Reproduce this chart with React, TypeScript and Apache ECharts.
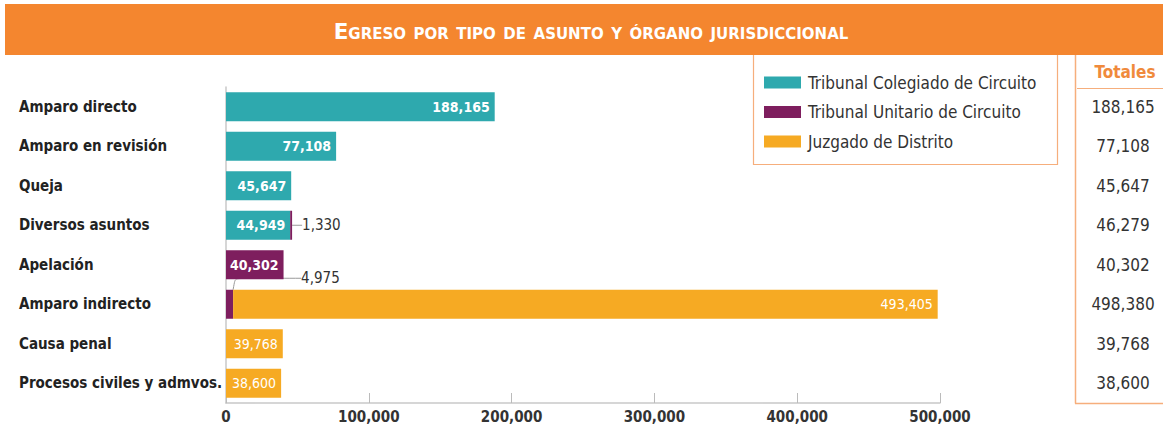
import React, { useEffect, useRef } from "react";
import * as echarts from "echarts";

const categories = [
  "Amparo directo",
  "Amparo en revisión",
  "Queja",
  "Diversos asuntos",
  "Apelación",
  "Amparo indirecto",
  "Causa penal",
  "Procesos civiles y admvos.",
];
const seriesNames = [
  "Tribunal Colegiado de Circuito",
  "Tribunal Unitario de Circuito",
  "Juzgado de Distrito",
];
const colegiado: (number | null)[] = [188165, 77108, 45647, 44949, null, null, null, null];
const unitario: (number | null)[] = [null, null, null, 1330, 40302, 4975, null, null];
const juzgado: (number | null)[] = [null, null, null, null, null, 493405, 39768, 38600];
const totales = [188165, 77108, 45647, 46279, 40302, 498380, 39768, 38600];
const xMax = 500000;
const xInterval = 100000;

const titleText = "Egreso por tipo de asunto y órgano jurisdiccional";
const totalsHeader = "Totales";

const COLORS = ["#2EA9AE", "#7E1E5E", "#F6AA23"];
const ORANGE = "#F4862F";
const LIGHT_ORANGE = "#F6AE7C";
const FONT = "'Liberation Sans Narrow', 'DejaVu Sans Condensed', 'Noto Sans', sans-serif";

const fmt = (v: any) => Number(v).toLocaleString("en-US");

export default function App() {
  const ref = useRef<HTMLDivElement>(null);
  useEffect(() => {
    document.body.style.margin = "0";
    if (!ref.current) return;
    const chart = echarts.init(ref.current, null, { renderer: "svg" });

    const toItems = (arr: (number | null)[]) =>
      arr.map((v, i) => {
        if (v == null) return "-";
        if (v < 10000) {
          return {
            value: v,
            label: {
              show: true,
              position: "right",
              distance: 5,
              color: "#333",
              fontWeight: "normal",
              fontSize: 15,
            },
            labelLine: {
              show: true,
              length2: i === 5 ? 66 : 0,
              smooth: i === 5 ? 0.2 : false,
              lineStyle: { color: "#999", width: 1 },
            },
          };
        }
        return { value: v };
      });

    const baseLabel = (weight: string) => ({
      show: true,
      position: "insideRight",
      distance: 5,
      color: "#fff",
      fontWeight: weight,
      fontSize: 14,
      fontFamily: FONT,
      formatter: (p: any) => fmt(p.value),
    });

    const option: any = {
      animation: false,
      textStyle: { fontFamily: FONT },
      grid: { left: 226, right: 223, top: 87, bottom: 27, containLabel: false },
      legend: {
        orient: "vertical",
        left: 764,
        top: 74,
        padding: 0,
        itemWidth: 37,
        itemHeight: 12,
        itemGap: 12.5,
        icon: "rect",
        selectedMode: false,
        data: seriesNames,
        textStyle: { fontSize: 17, color: "#333", fontFamily: FONT, padding: [0, 0, 0, 2] },
      },
      xAxis: {
        type: "value",
        min: 0,
        max: xMax,
        interval: xInterval,
        axisLine: { show: true, lineStyle: { color: "#c8c8c8", width: 1.5 } },
        axisTick: { show: true, inside: true, length: 10, lineStyle: { color: "#bbb" } },
        splitLine: { show: false },
        axisLabel: {
          fontWeight: "bold",
          fontSize: 15,
          color: "#333",
          margin: 6,
          fontFamily: FONT,
          formatter: (v: number) => fmt(v),
        },
      },
      yAxis: [
        {
          type: "category",
          data: categories,
          inverse: true,
          axisLine: { show: true, lineStyle: { color: "#c8c8c8", width: 1.5 } },
          axisTick: { show: false },
          axisLabel: {
            align: "left",
            margin: 207,
            fontWeight: "bold",
            fontSize: 15,
            color: "#222",
            fontFamily: FONT,
          },
        },
        {
          type: "category",
          data: categories,
          inverse: true,
          position: "right",
          axisLine: { show: false },
          axisTick: { show: false },
          axisLabel: {
            align: "center",
            margin: 183,
            fontSize: 17,
            color: "#333",
            fontFamily: FONT,
            formatter: (_v: string, i: number) => fmt(totales[i]),
          },
        },
      ],
      series: [
        {
          name: seriesNames[0],
          type: "bar",
          stack: "total",
          barWidth: 29,
          itemStyle: { color: COLORS[0] },
          label: baseLabel("bold"),
          data: toItems(colegiado),
        },
        {
          name: seriesNames[1],
          type: "bar",
          stack: "total",
          barWidth: 29,
          itemStyle: { color: COLORS[1] },
          label: baseLabel("bold"),
          labelLayout: (params: any) => {
            if (params.dataIndex === 3) return { dx: 5 };
            if (params.dataIndex === 5) return { dx: 63, dy: -26 };
            return {};
          },
          data: toItems(unitario),
        },
        {
          name: seriesNames[2],
          type: "bar",
          stack: "total",
          barWidth: 29,
          itemStyle: { color: COLORS[2] },
          label: baseLabel("normal"),
          data: toItems(juzgado),
        },
      ],
      graphic: [
        {
          type: "rect",
          z: 1,
          shape: { x: 753.5, y: 54.5, width: 304, height: 110 },
          style: { fill: "none", stroke: LIGHT_ORANGE, lineWidth: 1.2 },
        },
        {
          type: "line",
          shape: { x1: 1075.5, y1: 55, x2: 1075.5, y2: 403.5 },
          style: { stroke: LIGHT_ORANGE, lineWidth: 1.5 },
        },
        {
          type: "line",
          shape: { x1: 1075, y1: 403.5, x2: 1163, y2: 403.5 },
          style: { stroke: LIGHT_ORANGE, lineWidth: 1.5 },
        },
        {
          type: "line",
          shape: { x1: 1077, y1: 88.5, x2: 1163, y2: 88.5 },
          style: { stroke: LIGHT_ORANGE, lineWidth: 1.2 },
        },
        {
          type: "text",
          x: 1125,
          y: 72,
          style: {
            text: totalsHeader,
            font: "bold 17px " + FONT,
            fill: "#F08A3C",
            align: "center",
            verticalAlign: "middle",
          },
        },
        {
          type: "rect",
          z: 10,
          shape: { x: 5, y: 4, width: 1158, height: 51 },
          style: { fill: ORANGE },
        },
        {
          type: "text",
          z: 11,
          x: 591,
          y: 31,
          style: {
            text: titleText,
            font: "small-caps bold 21.5px 'DejaVu Sans', sans-serif",
            fill: "#fff",
            align: "center",
            verticalAlign: "middle",
          },
        },
      ],
    };
    chart.setOption(option);
    return () => chart.dispose();
  }, []);
  return <div ref={ref} style={{ width: 1163, height: 430 }} />;
}
